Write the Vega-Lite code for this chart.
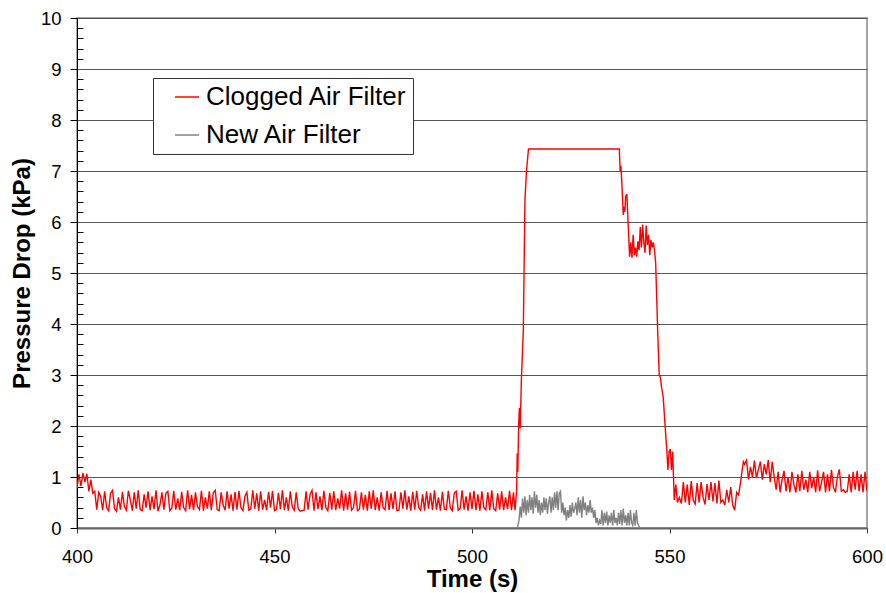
{
"$schema":"https://vega.github.io/schema/vega-lite/v6.json",
"width":790,"height":510,
"autosize":{"type":"none"},
"padding":{"left":77,"top":18,"right":19,"bottom":65},
"background":"white",
"config":{"font":"Liberation Sans","view":{"stroke":"#888","strokeWidth":1.5}},
"data":{"values":[
{"t":400,"p":0.78,"s":"Clogged Air Filter"},{"t":400.5,"p":1.05,"s":"Clogged Air Filter"},{"t":401,"p":0.82,"s":"Clogged Air Filter"},{"t":401.5,"p":1.08,"s":"Clogged Air Filter"},{"t":402,"p":0.9,"s":"Clogged Air Filter"},{"t":402.5,"p":1.06,"s":"Clogged Air Filter"},{"t":403,"p":0.72,"s":"Clogged Air Filter"},{"t":403.5,"p":0.95,"s":"Clogged Air Filter"},{"t":404,"p":0.68,"s":"Clogged Air Filter"},{"t":404.5,"p":0.72,"s":"Clogged Air Filter"},
{"t":405,"p":0.36,"s":"Clogged Air Filter"},{"t":405.5,"p":0.7,"s":"Clogged Air Filter"},{"t":406,"p":0.62,"s":"Clogged Air Filter"},{"t":406.5,"p":0.35,"s":"Clogged Air Filter"},{"t":407,"p":0.72,"s":"Clogged Air Filter"},{"t":407.5,"p":0.4,"s":"Clogged Air Filter"},{"t":408,"p":0.34,"s":"Clogged Air Filter"},{"t":408.5,"p":0.68,"s":"Clogged Air Filter"},{"t":409,"p":0.74,"s":"Clogged Air Filter"},{"t":409.5,"p":0.38,"s":"Clogged Air Filter"},
{"t":410,"p":0.33,"s":"Clogged Air Filter"},{"t":410.5,"p":0.6,"s":"Clogged Air Filter"},{"t":411,"p":0.36,"s":"Clogged Air Filter"},{"t":411.5,"p":0.71,"s":"Clogged Air Filter"},{"t":412,"p":0.42,"s":"Clogged Air Filter"},{"t":412.5,"p":0.35,"s":"Clogged Air Filter"},{"t":413,"p":0.73,"s":"Clogged Air Filter"},{"t":413.5,"p":0.55,"s":"Clogged Air Filter"},{"t":414,"p":0.34,"s":"Clogged Air Filter"},{"t":414.5,"p":0.7,"s":"Clogged Air Filter"},
{"t":415,"p":0.38,"s":"Clogged Air Filter"},{"t":415.5,"p":0.74,"s":"Clogged Air Filter"},{"t":416,"p":0.36,"s":"Clogged Air Filter"},{"t":416.5,"p":0.34,"s":"Clogged Air Filter"},{"t":417,"p":0.66,"s":"Clogged Air Filter"},{"t":417.5,"p":0.4,"s":"Clogged Air Filter"},{"t":418,"p":0.72,"s":"Clogged Air Filter"},{"t":418.5,"p":0.35,"s":"Clogged Air Filter"},{"t":419,"p":0.62,"s":"Clogged Air Filter"},{"t":419.5,"p":0.37,"s":"Clogged Air Filter"},
{"t":420,"p":0.74,"s":"Clogged Air Filter"},{"t":420.5,"p":0.33,"s":"Clogged Air Filter"},{"t":421,"p":0.45,"s":"Clogged Air Filter"},{"t":421.5,"p":0.7,"s":"Clogged Air Filter"},{"t":422,"p":0.36,"s":"Clogged Air Filter"},{"t":422.5,"p":0.68,"s":"Clogged Air Filter"},{"t":423,"p":0.72,"s":"Clogged Air Filter"},{"t":423.5,"p":0.34,"s":"Clogged Air Filter"},{"t":424,"p":0.39,"s":"Clogged Air Filter"},{"t":424.5,"p":0.73,"s":"Clogged Air Filter"},
{"t":425,"p":0.36,"s":"Clogged Air Filter"},{"t":425.5,"p":0.58,"s":"Clogged Air Filter"},{"t":426,"p":0.35,"s":"Clogged Air Filter"},{"t":426.5,"p":0.71,"s":"Clogged Air Filter"},{"t":427,"p":0.4,"s":"Clogged Air Filter"},{"t":427.5,"p":0.34,"s":"Clogged Air Filter"},{"t":428,"p":0.74,"s":"Clogged Air Filter"},{"t":428.5,"p":0.37,"s":"Clogged Air Filter"},{"t":429,"p":0.65,"s":"Clogged Air Filter"},{"t":429.5,"p":0.35,"s":"Clogged Air Filter"},
{"t":430,"p":0.7,"s":"Clogged Air Filter"},{"t":430.5,"p":0.42,"s":"Clogged Air Filter"},{"t":431,"p":0.36,"s":"Clogged Air Filter"},{"t":431.5,"p":0.73,"s":"Clogged Air Filter"},{"t":432,"p":0.34,"s":"Clogged Air Filter"},{"t":432.5,"p":0.6,"s":"Clogged Air Filter"},{"t":433,"p":0.38,"s":"Clogged Air Filter"},{"t":433.5,"p":0.72,"s":"Clogged Air Filter"},{"t":434,"p":0.35,"s":"Clogged Air Filter"},{"t":434.5,"p":0.69,"s":"Clogged Air Filter"},
{"t":435,"p":0.74,"s":"Clogged Air Filter"},{"t":435.5,"p":0.36,"s":"Clogged Air Filter"},{"t":436,"p":0.34,"s":"Clogged Air Filter"},{"t":436.5,"p":0.7,"s":"Clogged Air Filter"},{"t":437,"p":0.45,"s":"Clogged Air Filter"},{"t":437.5,"p":0.35,"s":"Clogged Air Filter"},{"t":438,"p":0.72,"s":"Clogged Air Filter"},{"t":438.5,"p":0.38,"s":"Clogged Air Filter"},{"t":439,"p":0.66,"s":"Clogged Air Filter"},{"t":439.5,"p":0.34,"s":"Clogged Air Filter"},
{"t":440,"p":0.71,"s":"Clogged Air Filter"},{"t":440.5,"p":0.36,"s":"Clogged Air Filter"},{"t":441,"p":0.73,"s":"Clogged Air Filter"},{"t":441.5,"p":0.4,"s":"Clogged Air Filter"},{"t":442,"p":0.34,"s":"Clogged Air Filter"},{"t":442.5,"p":0.62,"s":"Clogged Air Filter"},{"t":443,"p":0.7,"s":"Clogged Air Filter"},{"t":443.5,"p":0.35,"s":"Clogged Air Filter"},{"t":444,"p":0.37,"s":"Clogged Air Filter"},{"t":444.5,"p":0.74,"s":"Clogged Air Filter"},
{"t":445,"p":0.38,"s":"Clogged Air Filter"},{"t":445.5,"p":0.68,"s":"Clogged Air Filter"},{"t":446,"p":0.34,"s":"Clogged Air Filter"},{"t":446.5,"p":0.72,"s":"Clogged Air Filter"},{"t":447,"p":0.36,"s":"Clogged Air Filter"},{"t":447.5,"p":0.55,"s":"Clogged Air Filter"},{"t":448,"p":0.35,"s":"Clogged Air Filter"},{"t":448.5,"p":0.71,"s":"Clogged Air Filter"},{"t":449,"p":0.4,"s":"Clogged Air Filter"},{"t":449.5,"p":0.73,"s":"Clogged Air Filter"},
{"t":450,"p":0.34,"s":"Clogged Air Filter"},{"t":450.5,"p":0.36,"s":"Clogged Air Filter"},{"t":451,"p":0.69,"s":"Clogged Air Filter"},{"t":451.5,"p":0.37,"s":"Clogged Air Filter"},{"t":452,"p":0.74,"s":"Clogged Air Filter"},{"t":452.5,"p":0.35,"s":"Clogged Air Filter"},{"t":453,"p":0.6,"s":"Clogged Air Filter"},{"t":453.5,"p":0.34,"s":"Clogged Air Filter"},{"t":454,"p":0.72,"s":"Clogged Air Filter"},{"t":454.5,"p":0.41,"s":"Clogged Air Filter"},
{"t":455,"p":0.35,"s":"Clogged Air Filter"},{"t":455.5,"p":0.7,"s":"Clogged Air Filter"},{"t":456,"p":0.38,"s":"Clogged Air Filter"},{"t":456.5,"p":0.33,"s":"Clogged Air Filter"},{"t":457,"p":0.34,"s":"Clogged Air Filter"},{"t":457.5,"p":0.35,"s":"Clogged Air Filter"},{"t":458,"p":0.72,"s":"Clogged Air Filter"},{"t":458.5,"p":0.36,"s":"Clogged Air Filter"},{"t":459,"p":0.66,"s":"Clogged Air Filter"},{"t":459.5,"p":0.74,"s":"Clogged Air Filter"},
{"t":460,"p":0.34,"s":"Clogged Air Filter"},{"t":460.5,"p":0.7,"s":"Clogged Air Filter"},{"t":461,"p":0.37,"s":"Clogged Air Filter"},{"t":461.5,"p":0.62,"s":"Clogged Air Filter"},{"t":462,"p":0.35,"s":"Clogged Air Filter"},{"t":462.5,"p":0.73,"s":"Clogged Air Filter"},{"t":463,"p":0.4,"s":"Clogged Air Filter"},{"t":463.5,"p":0.34,"s":"Clogged Air Filter"},{"t":464,"p":0.69,"s":"Clogged Air Filter"},{"t":464.5,"p":0.36,"s":"Clogged Air Filter"},
{"t":465,"p":0.72,"s":"Clogged Air Filter"},{"t":465.5,"p":0.35,"s":"Clogged Air Filter"},{"t":466,"p":0.58,"s":"Clogged Air Filter"},{"t":466.5,"p":0.38,"s":"Clogged Air Filter"},{"t":467,"p":0.74,"s":"Clogged Air Filter"},{"t":467.5,"p":0.34,"s":"Clogged Air Filter"},{"t":468,"p":0.68,"s":"Clogged Air Filter"},{"t":468.5,"p":0.36,"s":"Clogged Air Filter"},{"t":469,"p":0.71,"s":"Clogged Air Filter"},{"t":469.5,"p":0.35,"s":"Clogged Air Filter"},
{"t":470,"p":0.4,"s":"Clogged Air Filter"},{"t":470.5,"p":0.73,"s":"Clogged Air Filter"},{"t":471,"p":0.34,"s":"Clogged Air Filter"},{"t":471.5,"p":0.37,"s":"Clogged Air Filter"},{"t":472,"p":0.7,"s":"Clogged Air Filter"},{"t":472.5,"p":0.36,"s":"Clogged Air Filter"},{"t":473,"p":0.65,"s":"Clogged Air Filter"},{"t":473.5,"p":0.34,"s":"Clogged Air Filter"},{"t":474,"p":0.72,"s":"Clogged Air Filter"},{"t":474.5,"p":0.38,"s":"Clogged Air Filter"},
{"t":475,"p":0.74,"s":"Clogged Air Filter"},{"t":475.5,"p":0.35,"s":"Clogged Air Filter"},{"t":476,"p":0.6,"s":"Clogged Air Filter"},{"t":476.5,"p":0.34,"s":"Clogged Air Filter"},{"t":477,"p":0.7,"s":"Clogged Air Filter"},{"t":477.5,"p":0.4,"s":"Clogged Air Filter"},{"t":478,"p":0.36,"s":"Clogged Air Filter"},{"t":478.5,"p":0.73,"s":"Clogged Air Filter"},{"t":479,"p":0.35,"s":"Clogged Air Filter"},{"t":479.5,"p":0.68,"s":"Clogged Air Filter"},
{"t":480,"p":0.37,"s":"Clogged Air Filter"},{"t":480.5,"p":0.72,"s":"Clogged Air Filter"},{"t":481,"p":0.34,"s":"Clogged Air Filter"},{"t":481.5,"p":0.35,"s":"Clogged Air Filter"},{"t":482,"p":0.7,"s":"Clogged Air Filter"},{"t":482.5,"p":0.38,"s":"Clogged Air Filter"},{"t":483,"p":0.74,"s":"Clogged Air Filter"},{"t":483.5,"p":0.36,"s":"Clogged Air Filter"},{"t":484,"p":0.62,"s":"Clogged Air Filter"},{"t":484.5,"p":0.34,"s":"Clogged Air Filter"},
{"t":485,"p":0.71,"s":"Clogged Air Filter"},{"t":485.5,"p":0.36,"s":"Clogged Air Filter"},{"t":486,"p":0.73,"s":"Clogged Air Filter"},{"t":486.5,"p":0.4,"s":"Clogged Air Filter"},{"t":487,"p":0.35,"s":"Clogged Air Filter"},{"t":487.5,"p":0.66,"s":"Clogged Air Filter"},{"t":488,"p":0.34,"s":"Clogged Air Filter"},{"t":488.5,"p":0.72,"s":"Clogged Air Filter"},{"t":489,"p":0.38,"s":"Clogged Air Filter"},{"t":489.5,"p":0.69,"s":"Clogged Air Filter"},
{"t":490,"p":0.35,"s":"Clogged Air Filter"},{"t":490.5,"p":0.74,"s":"Clogged Air Filter"},{"t":491,"p":0.36,"s":"Clogged Air Filter"},{"t":491.5,"p":0.6,"s":"Clogged Air Filter"},{"t":492,"p":0.34,"s":"Clogged Air Filter"},{"t":492.5,"p":0.71,"s":"Clogged Air Filter"},{"t":493,"p":0.37,"s":"Clogged Air Filter"},{"t":493.5,"p":0.36,"s":"Clogged Air Filter"},{"t":494,"p":0.73,"s":"Clogged Air Filter"},{"t":494.5,"p":0.4,"s":"Clogged Air Filter"},
{"t":495,"p":0.34,"s":"Clogged Air Filter"},{"t":495.5,"p":0.68,"s":"Clogged Air Filter"},{"t":496,"p":0.72,"s":"Clogged Air Filter"},{"t":496.5,"p":0.35,"s":"Clogged Air Filter"},{"t":497,"p":0.38,"s":"Clogged Air Filter"},{"t":497.5,"p":0.74,"s":"Clogged Air Filter"},{"t":498,"p":0.36,"s":"Clogged Air Filter"},{"t":498.5,"p":0.62,"s":"Clogged Air Filter"},{"t":499,"p":0.34,"s":"Clogged Air Filter"},{"t":499.5,"p":0.7,"s":"Clogged Air Filter"},
{"t":500,"p":0.37,"s":"Clogged Air Filter"},{"t":500.5,"p":0.73,"s":"Clogged Air Filter"},{"t":501,"p":0.35,"s":"Clogged Air Filter"},{"t":501.5,"p":0.66,"s":"Clogged Air Filter"},{"t":502,"p":0.34,"s":"Clogged Air Filter"},{"t":502.5,"p":0.72,"s":"Clogged Air Filter"},{"t":503,"p":0.4,"s":"Clogged Air Filter"},{"t":503.5,"p":0.36,"s":"Clogged Air Filter"},{"t":504,"p":0.7,"s":"Clogged Air Filter"},{"t":504.5,"p":0.35,"s":"Clogged Air Filter"},
{"t":505,"p":0.74,"s":"Clogged Air Filter"},{"t":505.5,"p":0.38,"s":"Clogged Air Filter"},{"t":506,"p":0.34,"s":"Clogged Air Filter"},{"t":506.5,"p":0.68,"s":"Clogged Air Filter"},{"t":507,"p":0.36,"s":"Clogged Air Filter"},{"t":507.5,"p":0.72,"s":"Clogged Air Filter"},{"t":508,"p":0.35,"s":"Clogged Air Filter"},{"t":508.5,"p":0.6,"s":"Clogged Air Filter"},{"t":509,"p":0.37,"s":"Clogged Air Filter"},{"t":509.5,"p":0.73,"s":"Clogged Air Filter"},
{"t":510,"p":0.35,"s":"Clogged Air Filter"},{"t":510.5,"p":0.7,"s":"Clogged Air Filter"},{"t":510.9,"p":0.35,"s":"Clogged Air Filter"},{"t":511.3,"p":0.75,"s":"Clogged Air Filter"},{"t":511.45,"p":1.46,"s":"Clogged Air Filter"},{"t":511.6,"p":1.1,"s":"Clogged Air Filter"},{"t":511.8,"p":2.0,"s":"Clogged Air Filter"},{"t":512.0,"p":2.35,"s":"Clogged Air Filter"},{"t":512.2,"p":1.95,"s":"Clogged Air Filter"},{"t":512.5,"p":2.9,"s":"Clogged Air Filter"},{"t":513.0,"p":3.9,"s":"Clogged Air Filter"},{"t":513.4,"p":6.43,"s":"Clogged Air Filter"},{"t":513.8,"p":7.0,"s":"Clogged Air Filter"},{"t":514.3,"p":7.43,"s":"Clogged Air Filter"},{"t":525,"p":7.43,"s":"Clogged Air Filter"},{"t":537.3,"p":7.43,"s":"Clogged Air Filter"},
{"t":537.5,"p":7.0,"s":"Clogged Air Filter"},{"t":537.7,"p":7.1,"s":"Clogged Air Filter"},{"t":537.9,"p":6.82,"s":"Clogged Air Filter"},{"t":538.3,"p":6.14,"s":"Clogged Air Filter"},{"t":538.5,"p":6.3,"s":"Clogged Air Filter"},{"t":538.7,"p":6.2,"s":"Clogged Air Filter"},{"t":538.9,"p":6.5,"s":"Clogged Air Filter"},{"t":539.2,"p":6.55,"s":"Clogged Air Filter"},{"t":539.6,"p":5.84,"s":"Clogged Air Filter"},{"t":539.9,"p":5.32,"s":"Clogged Air Filter"},{"t":540.2,"p":5.6,"s":"Clogged Air Filter"},{"t":540.5,"p":5.3,"s":"Clogged Air Filter"},{"t":540.8,"p":5.75,"s":"Clogged Air Filter"},{"t":541.1,"p":5.35,"s":"Clogged Air Filter"},{"t":541.4,"p":5.5,"s":"Clogged Air Filter"},{"t":541.7,"p":5.32,"s":"Clogged Air Filter"},{"t":542.0,"p":5.62,"s":"Clogged Air Filter"},{"t":542.3,"p":5.45,"s":"Clogged Air Filter"},{"t":542.6,"p":5.9,"s":"Clogged Air Filter"},{"t":542.9,"p":5.5,"s":"Clogged Air Filter"},{"t":543.2,"p":5.95,"s":"Clogged Air Filter"},{"t":543.5,"p":5.6,"s":"Clogged Air Filter"},{"t":543.8,"p":5.4,"s":"Clogged Air Filter"},{"t":544.1,"p":5.93,"s":"Clogged Air Filter"},{"t":544.4,"p":5.55,"s":"Clogged Air Filter"},{"t":544.7,"p":5.75,"s":"Clogged Air Filter"},{"t":545.0,"p":5.35,"s":"Clogged Air Filter"},{"t":545.3,"p":5.65,"s":"Clogged Air Filter"},{"t":545.6,"p":5.5,"s":"Clogged Air Filter"},{"t":545.9,"p":5.6,"s":"Clogged Air Filter"},{"t":546.2,"p":5.45,"s":"Clogged Air Filter"},{"t":546.5,"p":5.19,"s":"Clogged Air Filter"},{"t":547.0,"p":3.88,"s":"Clogged Air Filter"},{"t":547.4,"p":3.0,"s":"Clogged Air Filter"},{"t":547.7,"p":2.95,"s":"Clogged Air Filter"},{"t":548.0,"p":2.75,"s":"Clogged Air Filter"},{"t":548.4,"p":2.57,"s":"Clogged Air Filter"},{"t":548.8,"p":2.1,"s":"Clogged Air Filter"},{"t":549.3,"p":1.55,"s":"Clogged Air Filter"},{"t":549.6,"p":1.14,"s":"Clogged Air Filter"},{"t":549.9,"p":1.5,"s":"Clogged Air Filter"},{"t":550.2,"p":1.55,"s":"Clogged Air Filter"},{"t":550.5,"p":1.14,"s":"Clogged Air Filter"},{"t":550.8,"p":1.5,"s":"Clogged Air Filter"},{"t":551.2,"p":0.55,"s":"Clogged Air Filter"},{"t":551.6,"p":0.85,"s":"Clogged Air Filter"},
{"t":552,"p":0.5,"s":"Clogged Air Filter"},{"t":552.5,"p":0.6,"s":"Clogged Air Filter"},{"t":553,"p":0.48,"s":"Clogged Air Filter"},{"t":553.5,"p":0.9,"s":"Clogged Air Filter"},{"t":554,"p":0.5,"s":"Clogged Air Filter"},{"t":554.5,"p":0.85,"s":"Clogged Air Filter"},{"t":555,"p":0.45,"s":"Clogged Air Filter"},{"t":555.5,"p":0.92,"s":"Clogged Air Filter"},{"t":556,"p":0.55,"s":"Clogged Air Filter"},{"t":556.5,"p":0.47,"s":"Clogged Air Filter"},{"t":557,"p":0.88,"s":"Clogged Air Filter"},{"t":557.5,"p":0.5,"s":"Clogged Air Filter"},{"t":558,"p":0.9,"s":"Clogged Air Filter"},{"t":558.5,"p":0.6,"s":"Clogged Air Filter"},{"t":559,"p":0.46,"s":"Clogged Air Filter"},{"t":559.5,"p":0.86,"s":"Clogged Air Filter"},{"t":560,"p":0.55,"s":"Clogged Air Filter"},{"t":560.5,"p":0.9,"s":"Clogged Air Filter"},{"t":561,"p":0.52,"s":"Clogged Air Filter"},{"t":561.5,"p":0.88,"s":"Clogged Air Filter"},{"t":562,"p":0.48,"s":"Clogged Air Filter"},{"t":562.5,"p":0.93,"s":"Clogged Air Filter"},{"t":563,"p":0.5,"s":"Clogged Air Filter"},{"t":563.5,"p":0.55,"s":"Clogged Air Filter"},{"t":564,"p":0.45,"s":"Clogged Air Filter"},{"t":564.5,"p":0.75,"s":"Clogged Air Filter"},{"t":565,"p":0.5,"s":"Clogged Air Filter"},{"t":565.5,"p":0.8,"s":"Clogged Air Filter"},{"t":566,"p":0.45,"s":"Clogged Air Filter"},{"t":566.5,"p":0.35,"s":"Clogged Air Filter"},{"t":567,"p":0.7,"s":"Clogged Air Filter"},{"t":567.5,"p":0.65,"s":"Clogged Air Filter"},{"t":568,"p":0.9,"s":"Clogged Air Filter"},{"t":568.3,"p":1.08,"s":"Clogged Air Filter"},{"t":568.7,"p":1.3,"s":"Clogged Air Filter"},
{"t":569,"p":1.25,"s":"Clogged Air Filter"},{"t":569.5,"p":1.33,"s":"Clogged Air Filter"},{"t":570,"p":0.95,"s":"Clogged Air Filter"},{"t":570.5,"p":1.2,"s":"Clogged Air Filter"},{"t":571,"p":1.0,"s":"Clogged Air Filter"},{"t":571.5,"p":1.32,"s":"Clogged Air Filter"},{"t":572,"p":0.98,"s":"Clogged Air Filter"},{"t":572.5,"p":1.15,"s":"Clogged Air Filter"},{"t":573,"p":1.3,"s":"Clogged Air Filter"},{"t":573.5,"p":0.95,"s":"Clogged Air Filter"},{"t":574,"p":1.25,"s":"Clogged Air Filter"},{"t":574.5,"p":1.05,"s":"Clogged Air Filter"},{"t":575,"p":1.33,"s":"Clogged Air Filter"},{"t":575.5,"p":0.9,"s":"Clogged Air Filter"},{"t":576,"p":1.3,"s":"Clogged Air Filter"},{"t":576.5,"p":1.0,"s":"Clogged Air Filter"},
{"t":577,"p":0.75,"s":"Clogged Air Filter"},{"t":577.5,"p":1.1,"s":"Clogged Air Filter"},{"t":578,"p":0.7,"s":"Clogged Air Filter"},{"t":578.5,"p":0.95,"s":"Clogged Air Filter"},{"t":579,"p":1.12,"s":"Clogged Air Filter"},{"t":579.5,"p":0.72,"s":"Clogged Air Filter"},{"t":580,"p":1.0,"s":"Clogged Air Filter"},{"t":580.5,"p":0.7,"s":"Clogged Air Filter"},{"t":581,"p":1.1,"s":"Clogged Air Filter"},{"t":581.5,"p":0.85,"s":"Clogged Air Filter"},{"t":582,"p":0.7,"s":"Clogged Air Filter"},{"t":582.5,"p":1.05,"s":"Clogged Air Filter"},{"t":583,"p":0.72,"s":"Clogged Air Filter"},{"t":583.5,"p":1.12,"s":"Clogged Air Filter"},{"t":584,"p":0.75,"s":"Clogged Air Filter"},{"t":584.5,"p":0.95,"s":"Clogged Air Filter"},{"t":585,"p":0.7,"s":"Clogged Air Filter"},{"t":585.5,"p":1.1,"s":"Clogged Air Filter"},{"t":586,"p":0.78,"s":"Clogged Air Filter"},{"t":586.5,"p":1.0,"s":"Clogged Air Filter"},{"t":587,"p":0.7,"s":"Clogged Air Filter"},{"t":587.5,"p":1.13,"s":"Clogged Air Filter"},{"t":588,"p":0.72,"s":"Clogged Air Filter"},{"t":588.5,"p":0.9,"s":"Clogged Air Filter"},{"t":589,"p":1.1,"s":"Clogged Air Filter"},{"t":589.5,"p":0.7,"s":"Clogged Air Filter"},{"t":590,"p":1.05,"s":"Clogged Air Filter"},{"t":590.5,"p":0.72,"s":"Clogged Air Filter"},{"t":591,"p":1.14,"s":"Clogged Air Filter"},{"t":591.5,"p":0.8,"s":"Clogged Air Filter"},{"t":592,"p":0.7,"s":"Clogged Air Filter"},{"t":592.5,"p":1.0,"s":"Clogged Air Filter"},{"t":593,"p":1.15,"s":"Clogged Air Filter"},{"t":593.5,"p":0.72,"s":"Clogged Air Filter"},{"t":594,"p":0.75,"s":"Clogged Air Filter"},{"t":594.5,"p":0.7,"s":"Clogged Air Filter"},{"t":595,"p":0.72,"s":"Clogged Air Filter"},{"t":595.5,"p":1.05,"s":"Clogged Air Filter"},{"t":596,"p":0.7,"s":"Clogged Air Filter"},{"t":596.5,"p":1.1,"s":"Clogged Air Filter"},{"t":597,"p":0.75,"s":"Clogged Air Filter"},{"t":597.5,"p":1.12,"s":"Clogged Air Filter"},{"t":598,"p":0.72,"s":"Clogged Air Filter"},{"t":598.5,"p":1.05,"s":"Clogged Air Filter"},{"t":599,"p":0.7,"s":"Clogged Air Filter"},{"t":599.5,"p":1.1,"s":"Clogged Air Filter"},{"t":600,"p":0.72,"s":"Clogged Air Filter"},
{"t":511.5,"p":0,"s":"New Air Filter"},{"t":511.9,"p":0.15,"s":"New Air Filter"},{"t":512.2,"p":0.42,"s":"New Air Filter"},{"t":512.5,"p":0.2,"s":"New Air Filter"},{"t":512.8,"p":0.58,"s":"New Air Filter"},{"t":513.1,"p":0.3,"s":"New Air Filter"},{"t":513.4,"p":0.62,"s":"New Air Filter"},{"t":513.7,"p":0.25,"s":"New Air Filter"},{"t":514.0,"p":0.55,"s":"New Air Filter"},{"t":514.3,"p":0.3,"s":"New Air Filter"},{"t":514.6,"p":0.65,"s":"New Air Filter"},{"t":514.9,"p":0.35,"s":"New Air Filter"},{"t":515.2,"p":0.6,"s":"New Air Filter"},{"t":515.5,"p":0.28,"s":"New Air Filter"},{"t":515.8,"p":0.72,"s":"New Air Filter"},{"t":516.1,"p":0.4,"s":"New Air Filter"},{"t":516.4,"p":0.65,"s":"New Air Filter"},{"t":516.7,"p":0.3,"s":"New Air Filter"},{"t":517.0,"p":0.55,"s":"New Air Filter"},{"t":517.3,"p":0.25,"s":"New Air Filter"},{"t":517.6,"p":0.5,"s":"New Air Filter"},{"t":517.9,"p":0.3,"s":"New Air Filter"},{"t":518.2,"p":0.6,"s":"New Air Filter"},{"t":518.5,"p":0.35,"s":"New Air Filter"},{"t":518.8,"p":0.58,"s":"New Air Filter"},{"t":519.1,"p":0.28,"s":"New Air Filter"},{"t":519.4,"p":0.5,"s":"New Air Filter"},{"t":519.7,"p":0.62,"s":"New Air Filter"},{"t":520.0,"p":0.3,"s":"New Air Filter"},{"t":520.3,"p":0.6,"s":"New Air Filter"},{"t":520.6,"p":0.35,"s":"New Air Filter"},{"t":520.9,"p":0.7,"s":"New Air Filter"},{"t":521.2,"p":0.4,"s":"New Air Filter"},{"t":521.5,"p":0.72,"s":"New Air Filter"},{"t":521.8,"p":0.35,"s":"New Air Filter"},{"t":522.1,"p":0.68,"s":"New Air Filter"},{"t":522.4,"p":0.72,"s":"New Air Filter"},{"t":522.7,"p":0.3,"s":"New Air Filter"},{"t":523.0,"p":0.5,"s":"New Air Filter"},{"t":523.3,"p":0.25,"s":"New Air Filter"},{"t":523.6,"p":0.4,"s":"New Air Filter"},{"t":523.9,"p":0.15,"s":"New Air Filter"},{"t":524.2,"p":0.35,"s":"New Air Filter"},{"t":524.5,"p":0.2,"s":"New Air Filter"},{"t":524.8,"p":0.45,"s":"New Air Filter"},{"t":525.1,"p":0.22,"s":"New Air Filter"},{"t":525.4,"p":0.5,"s":"New Air Filter"},{"t":525.7,"p":0.3,"s":"New Air Filter"},{"t":526.0,"p":0.38,"s":"New Air Filter"},{"t":526.3,"p":0.5,"s":"New Air Filter"},{"t":526.6,"p":0.25,"s":"New Air Filter"},{"t":526.9,"p":0.6,"s":"New Air Filter"},{"t":527.2,"p":0.3,"s":"New Air Filter"},{"t":527.5,"p":0.55,"s":"New Air Filter"},{"t":527.8,"p":0.2,"s":"New Air Filter"},{"t":528.1,"p":0.62,"s":"New Air Filter"},{"t":528.4,"p":0.35,"s":"New Air Filter"},{"t":528.7,"p":0.5,"s":"New Air Filter"},{"t":529.0,"p":0.25,"s":"New Air Filter"},{"t":529.3,"p":0.45,"s":"New Air Filter"},{"t":529.6,"p":0.3,"s":"New Air Filter"},{"t":529.9,"p":0.55,"s":"New Air Filter"},{"t":530.2,"p":0.3,"s":"New Air Filter"},{"t":530.5,"p":0.4,"s":"New Air Filter"},{"t":530.8,"p":0.2,"s":"New Air Filter"},{"t":531.1,"p":0.35,"s":"New Air Filter"},{"t":531.4,"p":0.1,"s":"New Air Filter"},{"t":531.7,"p":0.2,"s":"New Air Filter"},{"t":532.0,"p":0.05,"s":"New Air Filter"},{"t":532.3,"p":0.15,"s":"New Air Filter"},{"t":532.6,"p":0.08,"s":"New Air Filter"},{"t":532.9,"p":0.35,"s":"New Air Filter"},{"t":533.2,"p":0.05,"s":"New Air Filter"},{"t":533.5,"p":0.3,"s":"New Air Filter"},{"t":533.8,"p":0.1,"s":"New Air Filter"},{"t":534.1,"p":0.32,"s":"New Air Filter"},{"t":534.4,"p":0.05,"s":"New Air Filter"},{"t":534.7,"p":0.25,"s":"New Air Filter"},{"t":535.0,"p":0.1,"s":"New Air Filter"},{"t":535.3,"p":0.3,"s":"New Air Filter"},{"t":535.6,"p":0.05,"s":"New Air Filter"},{"t":535.9,"p":0.35,"s":"New Air Filter"},{"t":536.2,"p":0.1,"s":"New Air Filter"},{"t":536.5,"p":0.2,"s":"New Air Filter"},{"t":536.8,"p":0.05,"s":"New Air Filter"},{"t":537.1,"p":0.3,"s":"New Air Filter"},{"t":537.4,"p":0.08,"s":"New Air Filter"},{"t":537.7,"p":0.35,"s":"New Air Filter"},{"t":538.0,"p":0.05,"s":"New Air Filter"},{"t":538.3,"p":0.38,"s":"New Air Filter"},{"t":538.6,"p":0.1,"s":"New Air Filter"},{"t":538.9,"p":0.25,"s":"New Air Filter"},{"t":539.2,"p":0.05,"s":"New Air Filter"},{"t":539.5,"p":0.3,"s":"New Air Filter"},{"t":539.8,"p":0.05,"s":"New Air Filter"},{"t":540.1,"p":0.35,"s":"New Air Filter"},{"t":540.4,"p":0.1,"s":"New Air Filter"},{"t":540.7,"p":0.05,"s":"New Air Filter"},{"t":541.0,"p":0.3,"s":"New Air Filter"},{"t":541.3,"p":0.05,"s":"New Air Filter"},{"t":541.6,"p":0.35,"s":"New Air Filter"},{"t":541.9,"p":0.1,"s":"New Air Filter"},{"t":542.2,"p":0.05,"s":"New Air Filter"},{"t":542.5,"p":0,"s":"New Air Filter"}
]},
"mark":{"type":"line","strokeWidth":1.4,"clip":true},
"encoding":{
"x":{"field":"t","type":"quantitative","scale":{"domain":[400,600],"nice":false,"zero":false},
"axis":{"title":"Time (s)","values":[400,450,500,550,600],"grid":false,"tickSize":5,"tickColor":"#333","domainColor":"#666","domainWidth":2,"labelFontSize":18.5,"labelColor":"#000","labelPadding":14,"labelFlush":false,"titleFontSize":24,"titleFontWeight":"bold","titleColor":"#000","titlePadding":2}},
"y":{"field":"p","type":"quantitative","scale":{"domain":[0,10],"nice":false,"zero":true},
"axis":{"title":"Pressure Drop (kPa)","values":[0,0.2,0.4,0.6,0.8,1,1.2,1.4,1.6,1.8,2,2.2,2.4,2.6,2.8,3,3.2,3.4,3.6,3.8,4,4.2,4.4,4.6,4.8,5,5.2,5.4,5.6,5.8,6,6.2,6.4,6.6,6.8,7,7.2,7.4,7.6,7.8,8,8.2,8.4,8.6,8.8,9,9.2,9.4,9.6,9.8,10],
"grid":true,"gridColor":"#555","gridWidth":1,
"gridOpacity":{"condition":{"test":"abs(datum.value-round(datum.value))<0.01","value":1},"value":0},
"tickSize":{"condition":{"test":"abs(datum.value-round(datum.value))<0.01","value":7},"value":-6},
"tickColor":"#000","domainColor":"#000","domainWidth":1,
"labelExpr":"abs(datum.value-round(datum.value))<0.01 ? ''+round(datum.value) : ''",
"labelOverlap":false,"labelFontSize":18.5,"labelColor":"#000","labelPadding":9,
"titleFontSize":24,"titleFontWeight":"bold","titleColor":"#000","titlePadding":6}},
"color":{"field":"s","type":"nominal","scale":{"domain":["Clogged Air Filter","New Air Filter"],"range":["#ff0000","#808080"]},
"legend":{"title":null,"orient":"none","legendX":76,"legendY":60,"symbolType":"stroke","symbolSize":576,"symbolStrokeWidth":1.5,"labelFontSize":26,"labelColor":"#000","labelFont":"Liberation Sans","padding":6,"rowPadding":12,"symbolOffset":15,"labelOffset":6,"strokeColor":"#333","fillColor":"#fff","labelLimit":400}}
}
}
